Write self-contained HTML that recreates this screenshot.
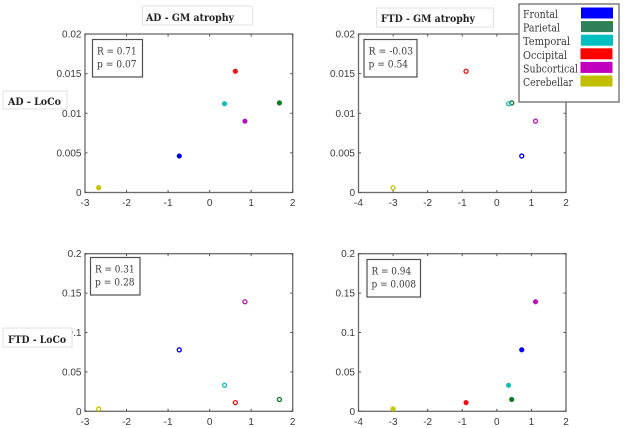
<!DOCTYPE html>
<html>
<head>
<meta charset="utf-8">
<style>
html,body{margin:0;padding:0;background:#fff;width:624px;height:428px;overflow:hidden}
svg{display:block}
text{font-family:"Liberation Sans","DejaVu Sans",sans-serif;fill:#3a3a3a}
.s{font-family:"DejaVu Serif","Liberation Serif",serif}
</style>
</head>
<body>
<svg id="fig" width="624" height="428" viewBox="0 0 624 428" xmlns="http://www.w3.org/2000/svg"></svg>
<script>
const regions = ['Frontal','Parietal','Temporal','Occipital','Subcortical','Cerebellar'];
const markerColors = ['#0000ee','#0a7a1e','#10bdbd','#f01010','#bb10bb','#c4c400'];
const legendColors = ['#0000ff','#2e8058','#00bfbf','#ff0000','#bf00bf','#bfbf00'];
const atrophyAD = [-0.73,1.68,0.36,0.62,0.85,-2.67];
const atrophyFTD = [0.72,0.43,0.34,-0.89,1.12,-3.0];
const locoAD = [0.0046,0.0113,0.0112,0.0153,0.0090,0.0006];
const locoFTD = [0.078,0.015,0.033,0.011,0.139,0.003];
const xTicksAD = [-3,-2,-1,0,1,2];
const xTicksFTD = [-4,-3,-2,-1,0,1,2];
const yTicksAD = [0,0.005,0.01,0.015,0.02];
const yTicksFTD = [0,0.05,0.1,0.15,0.2];
const statLabels = [['R = 0.71','p = 0.07'],['R = -0.03','p = 0.54'],['R = 0.31','p = 0.28'],['R = 0.94','p = 0.008']];

const svg = document.getElementById('fig');
function mk(tag, attrs, text){
  const e = document.createElementNS('http://www.w3.org/2000/svg', tag);
  for (const k in attrs) e.setAttribute(k, attrs[k]);
  if (text !== undefined) e.textContent = text;
  return e;
}
function panel(cfg){
  const g = mk('g', {});
  
  
  svg.appendChild(g);
  const xMin = cfg.xTicks[0], xMax = cfg.xTicks[cfg.xTicks.length-1];
  const yMin = cfg.yTicks[0], yMax = cfg.yTicks[cfg.yTicks.length-1];
  const sx = v => cfg.l + (v - xMin) / (xMax - xMin) * (cfg.r - cfg.l);
  const sy = v => cfg.b - (v - yMin) / (yMax - yMin) * (cfg.b - cfg.t);
  const frame = mk('rect', {x:cfg.l, y:cfg.t, width:cfg.r-cfg.l, height:cfg.b-cfg.t, fill:'none', stroke:'#6a6a6a', 'stroke-width':1.3});
  
  
  g.appendChild(frame);
  cfg.xTicks.forEach(v => {
    const x = sx(v);
    g.appendChild(mk('line', {x1:x, x2:x, y1:cfg.b, y2:cfg.b-2.5, stroke:'#555'}));
    g.appendChild(mk('line', {x1:x, x2:x, y1:cfg.t, y2:cfg.t+2.5, stroke:'#555'}));
    const t = mk('text', {x:x, y:cfg.b+13.5, 'text-anchor':'middle', 'font-size':10}, String(v));
    
    
    g.appendChild(t);
  });
  cfg.yTicks.forEach(v => {
    const y = sy(v);
    g.appendChild(mk('line', {x1:cfg.l, x2:cfg.l+2.5, y1:y, y2:y, stroke:'#555'}));
    g.appendChild(mk('line', {x1:cfg.r, x2:cfg.r-2.5, y1:y, y2:y, stroke:'#555'}));
    const t = mk('text', {x:cfg.l-3.5, y:y+3.5, 'text-anchor':'end', 'font-size':10}, String(v));
    
    
    g.appendChild(t);
  });
  regions.forEach((name, i) => {
    const c = mk('circle', {
      cx:sx(cfg.xs[i]), cy:sy(cfg.ys[i]), r:cfg.filled ? 2.4 : 2,
      fill:cfg.filled ? markerColors[i] : 'none',
      stroke:markerColors[i], 'stroke-width':cfg.filled ? 0.4 : 1.3
    });
    
    
    g.appendChild(c);
  });
  const box = mk('rect', {x:cfg.bx, y:cfg.by, width:cfg.bw, height:cfg.bh, fill:'#fff', stroke:'#505050', 'stroke-width':1.2});
  
  
  g.appendChild(box);
  cfg.stats.forEach((s, i) => {
    const t = mk('text', {x:cfg.bx+4.5, y:cfg.by+15+i*13.2, 'font-size':10, class:'s', textLength:s.length*4.95, lengthAdjust:'spacingAndGlyphs'}, s);
    
    
    g.appendChild(t);
  });
}
panel({name:'panel-ad-loco-vs-ad-atrophy', l:85, r:292.7, t:34, b:192.5, xTicks:xTicksAD, yTicks:yTicksAD, xs:atrophyAD, ys:locoAD, filled:true, stats:statLabels[0], bx:92.5, by:39.5, bw:50, bh:37.5});
panel({name:'panel-ad-loco-vs-ftd-atrophy', l:358.5, r:566, t:34, b:192.5, xTicks:xTicksFTD, yTicks:yTicksAD, xs:atrophyFTD, ys:locoAD, filled:false, stats:statLabels[1], bx:364, by:39.5, bw:53, bh:37.5});
panel({name:'panel-ftd-loco-vs-ad-atrophy', l:85, r:292.7, t:253.7, b:411.3, xTicks:xTicksAD, yTicks:yTicksFTD, xs:atrophyAD, ys:locoFTD, filled:false, stats:statLabels[2], bx:90.5, by:257.5, bw:49.5, bh:37.5});
panel({name:'panel-ftd-loco-vs-ftd-atrophy', l:358.5, r:566, t:253.7, b:411.3, xTicks:xTicksFTD, yTicks:yTicksFTD, xs:atrophyFTD, ys:locoFTD, filled:true, stats:statLabels[3], bx:367, by:259.5, bw:53.5, bh:37.5});

const titles = [
  {s:'AD - GM atrophy', n:'column-title-ad', x:142.5, y:6, w:110, h:19, tx:146, ty:21, tw:88},
  {s:'FTD - GM atrophy', n:'column-title-ftd', x:376.5, y:8, w:117, h:19, tx:381, ty:22, tw:94},
  {s:'AD - LoCo', n:'row-title-ad', x:3, y:91, w:64, h:18, tx:8, ty:105, tw:53},
  {s:'FTD - LoCo', n:'row-title-ftd', x:3, y:328, w:69, h:19, tx:8, ty:343, tw:58}
];
titles.forEach(o => {
  const r = mk('rect', {x:o.x, y:o.y, width:o.w, height:o.h, fill:'#fff', stroke:'#e2e2e2', 'stroke-width':1});
  
  
  svg.appendChild(r);
  const t = mk('text', {x:o.tx, y:o.ty, 'font-size':10.5, 'font-weight':'bold', class:'s', textLength:o.tw, lengthAdjust:'spacingAndGlyphs', style:'fill:#222'}, o.s);
  
  
  svg.appendChild(t);
});

const legend = mk('g', {});


svg.appendChild(legend);
legend.appendChild(mk('rect', {x:519, y:4, width:100, height:98, fill:'#fff', stroke:'#6a6a6a', 'stroke-width':1.3}));
const legendTextWidths = [35,37,47,44,55,50];
const legendSwatchX = [581,581,581,580.5,580.5,580.5];
regions.forEach((name, i) => {
  const t = mk('text', {x:523, y:18 + i*13.6, 'font-size':11, class:'s', textLength:legendTextWidths[i], lengthAdjust:'spacingAndGlyphs', style:'fill:#3a3a3a'}, name);
  
  
  legend.appendChild(t);
  const s = mk('rect', {x:legendSwatchX[i], y:7.5 + i*13.6, width:32, height:11, fill:legendColors[i]});
  
  
  legend.appendChild(s);
});
</script>
</body>
</html>
